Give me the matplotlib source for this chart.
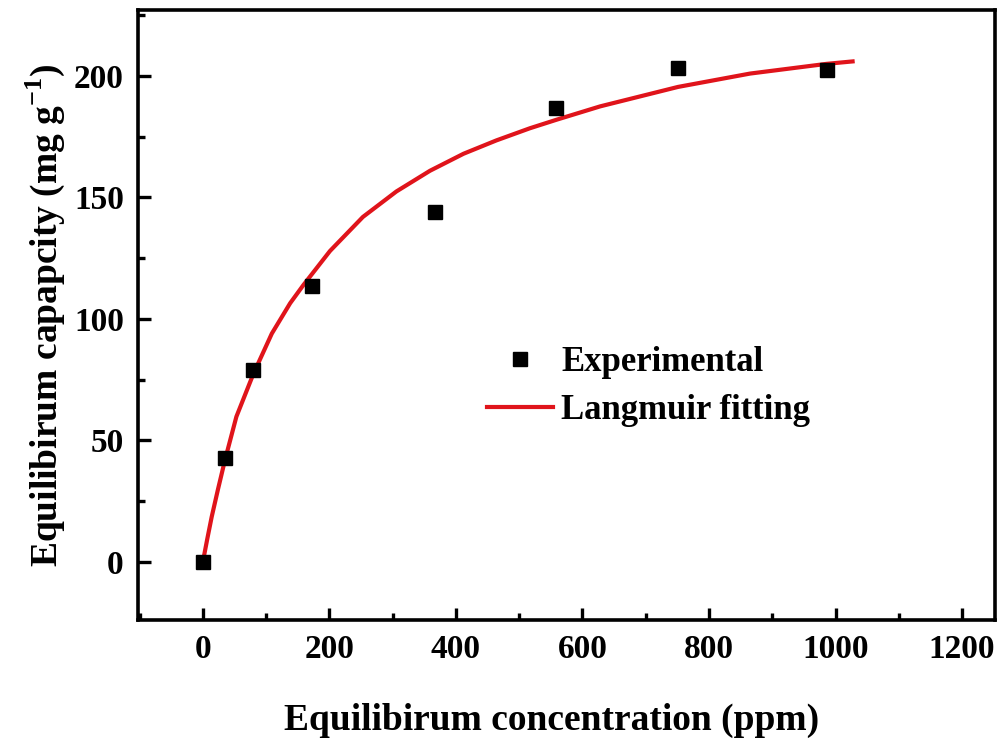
import matplotlib
matplotlib.use('Agg')
import matplotlib.pyplot as plt
from matplotlib.ticker import MultipleLocator

plt.rcParams['font.family'] = ['Liberation Serif', 'DejaVu Serif']
plt.rcParams['font.weight'] = 'bold'
plt.rcParams['mathtext.fontset'] = 'custom'
plt.rcParams['mathtext.rm'] = 'Liberation Serif:bold'
plt.rcParams['mathtext.bf'] = 'Liberation Serif:bold'

# experimental points
conc = [0, 35, 79, 172, 367, 558, 751, 986]
capacity = [0, 42.8, 79, 113.6, 144, 187, 203.4, 202.5]

# Langmuir fitted curve
fit_conc = [0, 7, 14, 24, 35, 53, 80, 109, 138, 159, 201, 253, 306, 359, 412, 464,
            517, 559, 628, 751, 865, 986, 1027]
fit_cap = [0, 9.5, 18.6, 30, 42, 59.8, 77.5, 94, 106.5, 114, 128, 142, 152.5, 161, 168, 173.5,
           178.5, 182, 187.5, 195.5, 201, 205, 206]

fig = plt.figure(figsize=(10.05, 7.42), dpi=100)
ax = fig.add_axes([0.137, 0.164, 0.853, 0.822])

ax.plot(fit_conc, fit_cap, color='#e0141b', linewidth=3.0, label='Langmuir fitting', zorder=2)
ax.plot(conc, capacity, linestyle='none', marker='s', markersize=9.5, color='black',
        label='Experimental', zorder=3)

ax.set_xlim(-103, 1252)
ax.set_ylim(-24, 227)
ax.xaxis.set_major_locator(MultipleLocator(200))
ax.xaxis.set_minor_locator(MultipleLocator(100))
ax.yaxis.set_major_locator(MultipleLocator(50))
ax.yaxis.set_minor_locator(MultipleLocator(25))
ax.tick_params(which='both', direction='in', width=2.4, labelsize=24, top=False, right=False)
ax.tick_params(which='major', length=9, pad=10)
ax.tick_params(which='minor', length=5)
for s in ax.spines.values():
    s.set_linewidth(2.6)

ax.set_xlabel('Equilibirum concentration (ppm)', fontsize=27, fontweight='bold')
ax.xaxis.set_label_coords(0.483, -0.135)
ax.set_ylabel('Equilibirum capapcity (mg g$^{-1}$)', fontsize=27, fontweight='bold', labelpad=5)

handles, labels = ax.get_legend_handles_labels()
ax.legend(handles[::-1], labels[::-1], loc='upper left', bbox_to_anchor=(0.407, 0.45),
          frameon=False, fontsize=25, handlelength=1.9, handletextpad=0.25,
          labelspacing=0.45, borderpad=0, borderaxespad=0)

fig.savefig('out.png', dpi=100)
